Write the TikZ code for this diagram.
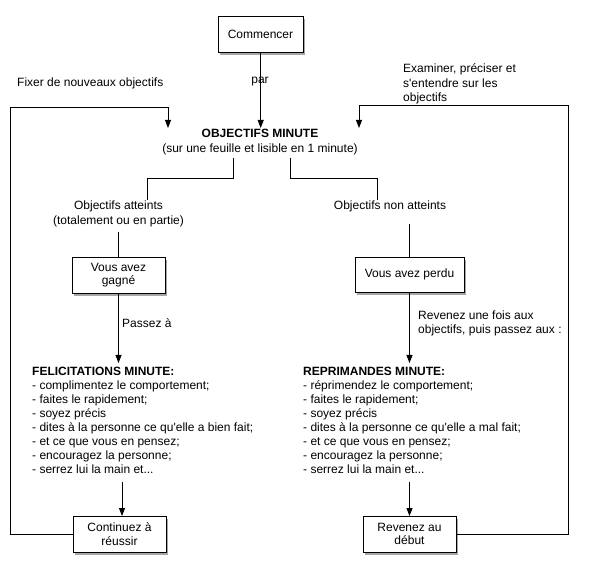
\documentclass[tikz,border=0pt]{standalone}
\usepackage{fontspec}
\setmainfont{Liberation Sans}[Ligatures=TeXOff]
\usetikzlibrary{arrows.meta,shadows}
\begin{document}
\begin{tikzpicture}[x=1pt,y=-1pt,
  every node/.style={font=\fontsize{12}{14}\selectfont, inner sep=0pt},
  box/.style={draw=black, line width=0.9pt, fill=white, align=center,
    font=\fontsize{12}{13.5}\selectfont,
    drop shadow={shadow xshift=2pt, shadow yshift=-3pt, fill=black, opacity=0.35}},
  lbl/.style={align=left, anchor=west},
  conn/.style={draw=black, line width=0.9pt},
  arr/.style={conn, -{Triangle[length=8pt,width=6pt]}}]
\useasboundingbox[fill=white] (0,0) rectangle (592,577);

% boxes
\node[box, minimum width=85pt, minimum height=36pt] (start) at (260.5,34) {Commencer};
\node[box, minimum width=93pt, minimum height=36pt] (win) at (118.5,275) {Vous avez\\gagné};
\node[box, minimum width=109pt, minimum height=35pt] (lose) at (409.5,274.5) {Vous avez perdu};
\node[box, minimum width=93pt, minimum height=36pt] (cont) at (119.5,534) {Continuez à\\réussir};
\node[box, minimum width=93pt, minimum height=36pt] (rev) at (409.5,534) {Revenez au\\début};

% texts
\node[align=center] (obj) at (260,142.5) {\textbf{OBJECTIFS MINUTE}\\[1pt](sur une feuille et lisible en 1 minute)};
\node[align=center] (att) at (118.5,213.5) {Objectifs atteints\\[1pt](totalement ou en partie)};
\node (non) at (390,206) {Objectifs non atteints};
\node (par) at (260,82) {par};
\node[lbl] (fix) at (17,83) {Fixer de nouveaux objectifs};
\node[lbl, font=\fontsize{12}{14.5}\selectfont] (exa) at (403,84) {Examiner, préciser et\\s'entendre sur les\\objectifs};
\node[lbl] (pass) at (122,323) {Passez à};
\node[lbl] (reve) at (418,323.5) {Revenez une fois aux\\objectifs, puis passez aux :};
\node[lbl] (fel) at (32,420.5) {\textbf{FELICITATIONS MINUTE:}\\
- complimentez le comportement;\\
- faites le rapidement;\\
- soyez précis\\
- dites à la personne ce qu'elle a bien fait;\\
- et ce que vous en pensez;\\
- encouragez la personne;\\
- serrez lui la main et...};
\node[lbl] (rep) at (303,420.5) {\textbf{REPRIMANDES MINUTE:}\\
- réprimendez le comportement;\\
- faites le rapidement;\\
- soyez précis\\
- dites à la personne ce qu'elle a mal fait;\\
- et ce que vous en pensez;\\
- encouragez la personne;\\
- serrez lui la main et...};

% coordinates
\coordinate (objIn) at (260.7,128);
\coordinate (bL0) at (233,158);
\coordinate (bL1) at (233,178);
\coordinate (bL2) at (147,178);
\coordinate (bL3) at (147,200);
\coordinate (bR0) at (290,158);
\coordinate (bR1) at (290,178);
\coordinate (bR2) at (377,178);
\coordinate (bR3) at (377,200);
\coordinate (attOut) at (118.5,232);
\coordinate (nonOut) at (409.5,224);
\coordinate (felIn) at (118.5,363);
\coordinate (repIn) at (409.5,363);
\coordinate (felOut) at (122,482);
\coordinate (contIn) at (122,516);
\coordinate (repOut) at (409.5,482);
\coordinate (revIn) at (409.5,516);
\coordinate (lp1) at (10.5,534);
\coordinate (lp2) at (10.5,107);
\coordinate (lp3) at (168,107);
\coordinate (lp4) at (168,128);
\coordinate (rp1) at (568,534);
\coordinate (rp2) at (568,105);
\coordinate (rp3) at (359,105);
\coordinate (rp4) at (359,128);

% connectors
\draw[arr] (start.south -| objIn) -- (objIn);
\draw[conn] (bL0) -- (bL1) -- (bL2) -- (bL3);
\draw[conn] (bR0) -- (bR1) -- (bR2) -- (bR3);
\draw[conn] (attOut) -- (win.north);
\draw[conn] (nonOut) -- (lose.north);
\draw[arr] (win.south) -- (felIn);
\draw[arr] (lose.south) -- (repIn);
\draw[arr] (felOut) -- (contIn);
\draw[arr] (repOut) -- (revIn);
\draw[arr] (cont.west) -- (lp1) -- (lp2) -- (lp3) -- (lp4);
\draw[arr] (rev.east) -- (rp1) -- (rp2) -- (rp3) -- (rp4);
\end{tikzpicture}
\end{document}
